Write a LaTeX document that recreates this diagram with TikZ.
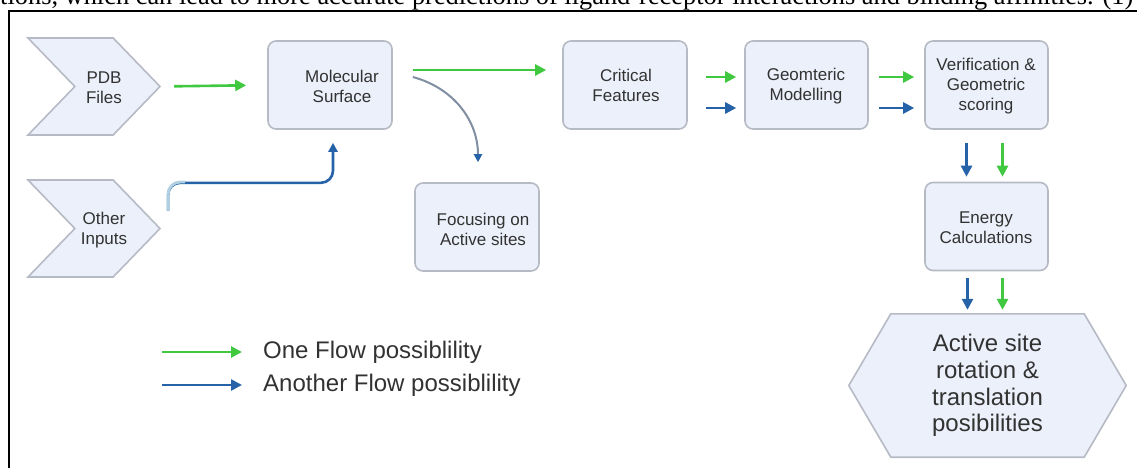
\documentclass[tikz,border=0pt]{standalone}
\usepackage{graphicx}
\usepackage{fontspec}
\setmainfont{Liberation Serif}
\newfontfamily\diagfont{Liberation Sans}
\usetikzlibrary{arrows.meta,shapes.symbols,calc,backgrounds}

\definecolor{boxfill}{RGB}{236,240,250}
\definecolor{boxline}{RGB}{182,186,196}
\definecolor{flowgreen}{RGB}{64,200,64}
\definecolor{flowblue}{RGB}{38,98,168}
\definecolor{fadeblue}{RGB}{176,208,226}
\definecolor{curvegray}{RGB}{128,142,162}
\definecolor{labeltext}{RGB}{50,50,50}

\begin{document}
\begin{tikzpicture}[x=1pt,y=1pt,
  stagebox/.style={draw=boxline, fill=boxfill, line width=1.6pt, rounded corners=8pt,
    minimum width=124pt, minimum height=88pt, inner sep=0pt},
  inbox/.style={signal, signal from=west, signal to=east, signal pointer angle=92,
    draw=boxline, fill=boxfill, line width=1.6pt, minimum width=132pt,
    minimum height=97pt, inner sep=0pt},
  stagetext/.style={font=\diagfont\fontsize{17}{20}\selectfont, text=labeltext,
    align=center, inner sep=0pt},
  bigtext/.style={font=\diagfont\fontsize{24}{26.7}\selectfont, text=labeltext,
    align=center, inner sep=0pt},
  greenflow/.style={draw=flowgreen, line width=2.6pt, -{Triangle[length=11pt,width=11pt]}},
  blueflow/.style={draw=flowblue, line width=2.6pt, -{Triangle[length=11pt,width=11pt]}},
]
\clip (0,0) rectangle (1137,-468);

% caption line running above the frame
\node[anchor=base west, inner sep=0pt] (capline) at (0,-4.5)
  {\resizebox{1133pt}{!}{tions, which can lead to more accurate predictions of ligand-receptor interactions and binding affinities. (1)}};

% frame around the figure
\draw[line width=2pt] (9,-11) rectangle (1160,-490);

% inputs
\node[inbox] (pdb) at (94,-86.5) {};
\node[stagetext] (pdbtxt) at (104,-88) {PDB\\Files};
\node[inbox] (oth) at (94,-228.5) {};
\node[stagetext] (othtxt) at (104,-230) {Other\\Inputs};

% processing stages
\node[stagebox] (mol) at (330,-85) {};
\node[stagetext] (moltxt) at (342,-86) {Molecular\\Surface};
\node[stagebox] (crit) at (625,-85) {};
\node[stagetext] (crittxt) at (626,-85) {Critical\\Features};
\node[stagebox, minimum width=123pt] (geo) at (806.5,-85) {};
\node[stagetext] (geotxt) at (806,-86) {Geomteric\\Modelling};
\node[stagebox, minimum width=123pt] (ver) at (986.5,-85) {};
\node[stagetext] (vertxt) at (986,-86) {Verification \&\\Geometric\\scoring};
\node[stagebox] (foc) at (477,-227) {};
\node[stagetext] (foctxt) at (483,-229) {Focusing on\\Active sites};
\node[stagebox, minimum width=123pt] (ene) at (986.5,-226.5) {};
\node[stagetext] (enetxt) at (986,-228) {Energy\\Calculations};

% final outcome: text node with a hexagon drawn behind it
\node[bigtext, minimum width=193pt, minimum height=143pt] (hex) at (987.5,-385.5)
  {Active site\\rotation \&\\translation\\posibilities};
\begin{scope}[on background layer]
\draw[draw=boxline, fill=boxfill, line width=1.6pt]
  (hex.north west) -- (hex.north east) -- ([xshift=42pt]hex.east) --
  (hex.south east) -- (hex.south west) -- ([xshift=-42pt]hex.west) -- cycle;
\end{scope}

% connectors
\draw[greenflow, shorten <=13pt, shorten >=21pt] (pdb.east) -- (mol.west);
\draw[blueflow, -{Triangle[length=9pt,width=9pt]}, rounded corners=12pt]
  ($(oth.east)+(7,18)$) |- ($(mol.south)+(3,-53)$) -- ($(mol.south)+(3,-13)$);
\draw[fadeblue, line width=2.8pt, rounded corners=12pt]
  ($(oth.east)+(7,18)$) |- ($(oth.east)+(24,46.5)$);
\draw[greenflow, shorten <=20pt, shorten >=16pt]
  ([yshift=15pt]mol.east) -- ([yshift=15pt]mol.east -| crit.west);
\draw[draw=curvegray, line width=2pt, -{Triangle[length=8pt,width=8pt,color=flowblue]}]
  ($(mol.east)+(20,8)$) to[out=-15,in=90] ($(foc.north)+(1,20)$);

\draw[greenflow, shorten <=18pt, shorten >=8pt]
  ([yshift=8pt]crit.east) -- ([yshift=8pt]crit.east -| geo.west);
\draw[blueflow, shorten <=18pt, shorten >=8pt]
  ([yshift=-23pt]crit.east) -- ([yshift=-23pt]crit.east -| geo.west);
\draw[greenflow, shorten <=10pt, shorten >=10pt]
  ([yshift=8pt]geo.east) -- ([yshift=8pt]geo.east -| ver.west);
\draw[blueflow, shorten <=10pt, shorten >=10pt]
  ([yshift=-23pt]geo.east) -- ([yshift=-23pt]geo.east -| ver.west);

\draw[blueflow, shorten <=13pt, shorten >=5pt]
  ([xshift=-20pt]ver.south) -- ([xshift=-20pt]ver.south |- ene.north);
\draw[greenflow, shorten <=13pt, shorten >=5pt]
  ([xshift=16pt]ver.south) -- ([xshift=16pt]ver.south |- ene.north);
\draw[blueflow, shorten <=7pt, shorten >=4pt]
  ([xshift=-19pt]ene.south) -- ([xshift=-19pt]ene.south |- hex.north);
\draw[greenflow, shorten <=7pt, shorten >=4pt]
  ([xshift=16pt]ene.south) -- ([xshift=16pt]ene.south |- hex.north);

% legend
\coordinate (lgA) at (162,-352);
\coordinate (lgB) at (162,-385);
\node[bigtext, anchor=west] (legA) at (263,-352) {One Flow possiblility};
\node[bigtext, anchor=west] (legB) at (263,-385) {Another Flow possiblility};
\draw[greenflow, shorten >=21pt] (lgA) -- (legA.west);
\draw[blueflow, shorten >=21pt] (lgB) -- (legB.west);
\end{tikzpicture}
\end{document}
